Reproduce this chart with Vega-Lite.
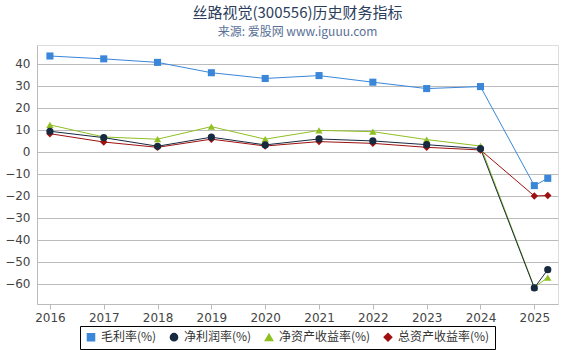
{
  "$schema": "https://vega.github.io/schema/vega-lite/v6.json",
  "width": 521,
  "height": 259,
  "autosize": "none",
  "padding": {"left": 37, "top": 45, "right": 12, "bottom": 46},
  "background": "white",
  "title": {
    "text": "丝路视觉(300556)历史财务指标",
    "subtitle": "来源: 爱股网 www.iguuu.com",
    "anchor": "middle",
    "frame": "group",
    "font": "Noto Sans CJK SC",
    "fontSize": 15,
    "fontWeight": "normal",
    "color": "#2c3e5c",
    "subtitleFont": "Noto Sans CJK SC",
    "subtitleFontSize": 12,
    "subtitleColor": "#5a7196",
    "subtitlePadding": 6,
    "offset": 7
  },
  "data": {
    "values": [
      {"year": 2016, "series": "毛利率(%)", "value": 43.6},
      {"year": 2017, "series": "毛利率(%)", "value": 42.3},
      {"year": 2018, "series": "毛利率(%)", "value": 40.7},
      {"year": 2019, "series": "毛利率(%)", "value": 36.0},
      {"year": 2020, "series": "毛利率(%)", "value": 33.4},
      {"year": 2021, "series": "毛利率(%)", "value": 34.7},
      {"year": 2022, "series": "毛利率(%)", "value": 31.7},
      {"year": 2023, "series": "毛利率(%)", "value": 28.8},
      {"year": 2024, "series": "毛利率(%)", "value": 29.7},
      {"year": 2025, "series": "毛利率(%)", "value": -15.3},
      {"year": 2025.25, "series": "毛利率(%)", "value": -12.0},
      {"year": 2016, "series": "总资产收益率(%)", "value": 8.3},
      {"year": 2017, "series": "总资产收益率(%)", "value": 4.5},
      {"year": 2018, "series": "总资产收益率(%)", "value": 2.1},
      {"year": 2019, "series": "总资产收益率(%)", "value": 5.8},
      {"year": 2020, "series": "总资产收益率(%)", "value": 2.7},
      {"year": 2021, "series": "总资产收益率(%)", "value": 4.7},
      {"year": 2022, "series": "总资产收益率(%)", "value": 3.9},
      {"year": 2023, "series": "总资产收益率(%)", "value": 2.1},
      {"year": 2024, "series": "总资产收益率(%)", "value": 0.9},
      {"year": 2025, "series": "总资产收益率(%)", "value": -20.0},
      {"year": 2025.25, "series": "总资产收益率(%)", "value": -19.8},
      {"year": 2016, "series": "净资产收益率(%)", "value": 12.3},
      {"year": 2017, "series": "净资产收益率(%)", "value": 6.8},
      {"year": 2018, "series": "净资产收益率(%)", "value": 5.8},
      {"year": 2019, "series": "净资产收益率(%)", "value": 11.5},
      {"year": 2020, "series": "净资产收益率(%)", "value": 5.8},
      {"year": 2021, "series": "净资产收益率(%)", "value": 9.8},
      {"year": 2022, "series": "净资产收益率(%)", "value": 9.2},
      {"year": 2023, "series": "净资产收益率(%)", "value": 5.6},
      {"year": 2024, "series": "净资产收益率(%)", "value": 2.7},
      {"year": 2025, "series": "净资产收益率(%)", "value": -61.5},
      {"year": 2025.25, "series": "净资产收益率(%)", "value": -57.1},
      {"year": 2016, "series": "净利润率(%)", "value": 9.4},
      {"year": 2017, "series": "净利润率(%)", "value": 6.5},
      {"year": 2018, "series": "净利润率(%)", "value": 2.6},
      {"year": 2019, "series": "净利润率(%)", "value": 6.7},
      {"year": 2020, "series": "净利润率(%)", "value": 3.2},
      {"year": 2021, "series": "净利润率(%)", "value": 5.9},
      {"year": 2022, "series": "净利润率(%)", "value": 5.0},
      {"year": 2023, "series": "净利润率(%)", "value": 3.3},
      {"year": 2024, "series": "净利润率(%)", "value": 1.5},
      {"year": 2025, "series": "净利润率(%)", "value": -61.8},
      {"year": 2025.25, "series": "净利润率(%)", "value": -53.5}
    ]
  },
  "encoding": {
    "x": {
      "field": "year",
      "type": "quantitative",
      "scale": {"domain": [2015.76, 2025.44], "nice": false, "zero": false},
      "axis": {
        "title": null,
        "values": [2016, 2017, 2018, 2019, 2020, 2021, 2022, 2023, 2024, 2025],
        "format": "d",
        "grid": false,
        "domainColor": "#bbbbbb",
        "tickColor": "#bbbbbb",
        "tickSize": 5,
        "labelFont": "DejaVu Sans",
        "labelFontSize": 12,
        "labelColor": "#444444",
        "labelPadding": 3
      }
    },
    "y": {
      "field": "value",
      "type": "quantitative",
      "scale": {"domain": [-69.1, 48.6], "nice": false, "zero": false},
      "axis": {
        "title": null,
        "values": [-60, -50, -40, -30, -20, -10, 0, 10, 20, 30, 40],
        "grid": true,
        "gridColor": "#bbbbbb",
        "ticks": false,
        "domainColor": "#bbbbbb",
        "labelFont": "DejaVu Sans",
        "labelFontSize": 12,
        "labelColor": "#444444",
        "labelPadding": 7
      }
    },
    "color": {
      "field": "series",
      "type": "nominal",
      "scale": {
        "domain": ["毛利率(%)", "净利润率(%)", "净资产收益率(%)", "总资产收益率(%)"],
        "range": ["#3a86d8", "#172a40", "#8fbf22", "#a01010"]
      },
      "legend": {
        "title": null,
        "orient": "none",
        "legendX": 43,
        "legendY": 281,
        "direction": "horizontal",
        "strokeColor": "#000000",
        "padding": 5,
        "labelFont": "Noto Sans CJK SC",
        "labelFontSize": 12,
        "labelColor": "#333333",
        "symbolSize": 30,
        "columnPadding": 10,
        "labelOffset": 4
      }
    }
  },
  "layer": [
    {
      "mark": {"type": "line", "strokeWidth": 1},
      "encoding": {"detail": {"field": "series"}}
    },
    {
      "mark": {"type": "point", "filled": true, "opacity": 1},
      "encoding": {
        "shape": {
          "field": "series",
          "type": "nominal",
          "scale": {
            "domain": ["毛利率(%)", "净利润率(%)", "净资产收益率(%)", "总资产收益率(%)"],
            "range": ["square", "circle", "triangle-up", "diamond"]
          },
          "legend": {
            "title": null,
            "orient": "none",
            "legendX": 43,
            "legendY": 281,
            "direction": "horizontal",
            "strokeColor": "#000000",
            "padding": 5,
            "labelFont": "Noto Sans CJK SC",
            "labelFontSize": 12,
            "labelColor": "#333333",
            "symbolSize": 30,
            "columnPadding": 10,
            "labelOffset": 4
          }
        },
        "size": {
          "field": "series",
          "type": "nominal",
          "scale": {
            "domain": ["毛利率(%)", "净利润率(%)", "净资产收益率(%)", "总资产收益率(%)"],
            "range": [50, 55, 45, 30]
          },
          "legend": null
        }
      }
    }
  ]
}
